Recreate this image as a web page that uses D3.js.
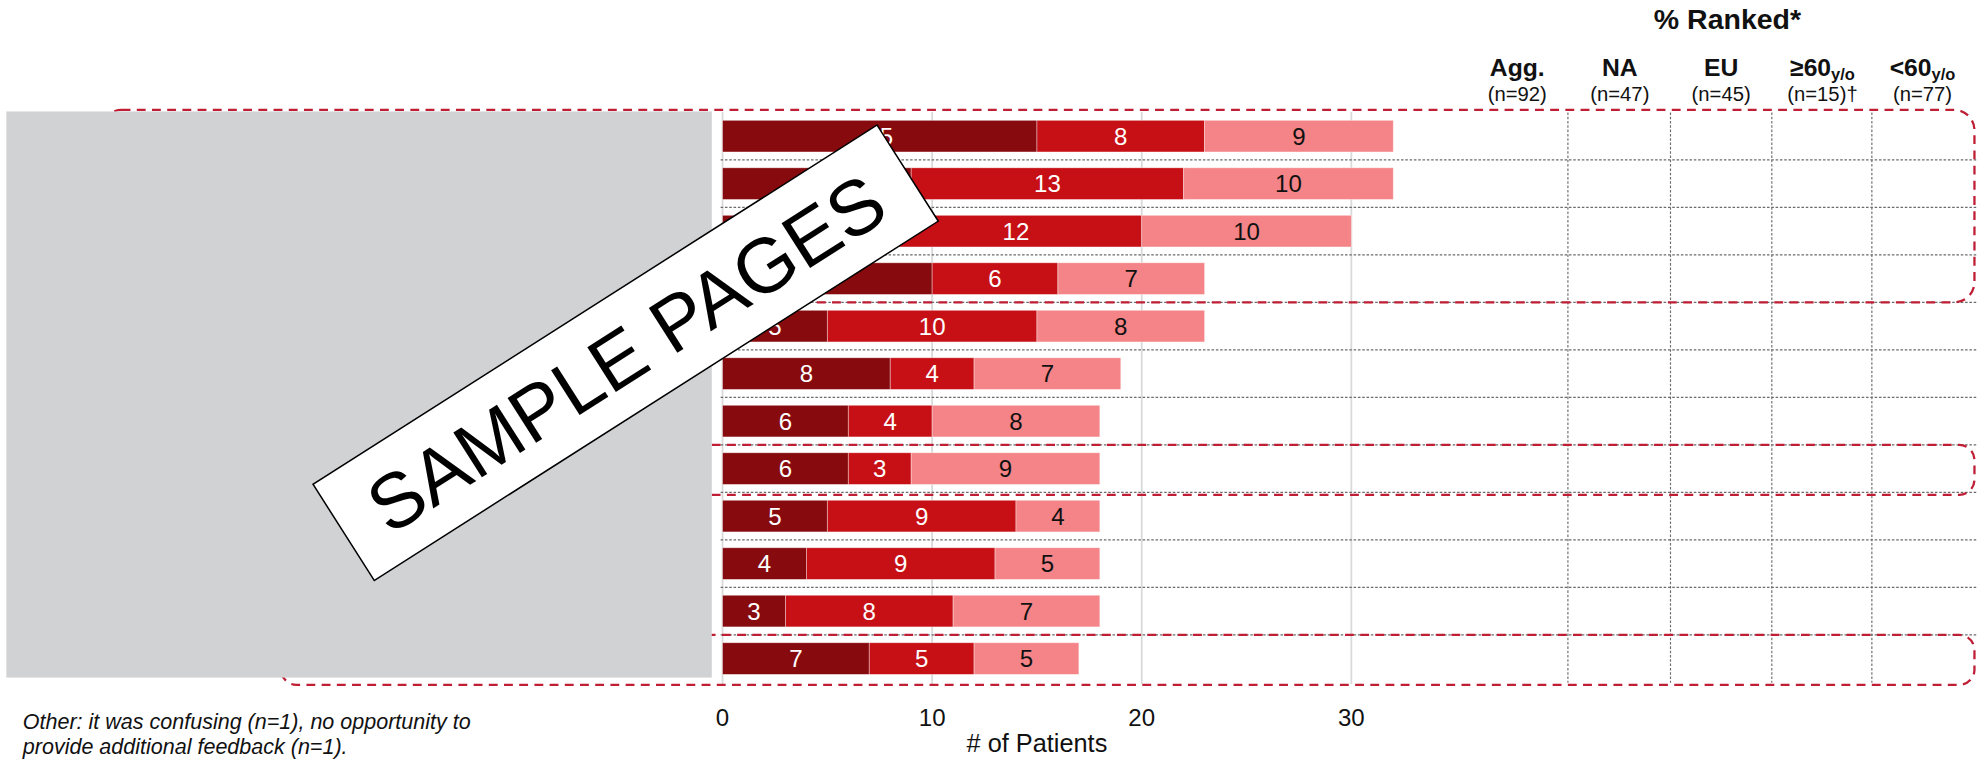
<!DOCTYPE html>
<html><head><meta charset="utf-8">
<script src="https://cdn.jsdelivr.net/npm/d3@7"></script>
<style>
html,body{margin:0;padding:0;background:#fff;}
svg{display:block;font-family:"Liberation Sans",Arial,Helvetica,sans-serif;}
</style></head>
<body>
<svg id="chart" width="1977" height="759" viewBox="0 0 1561 599.3"></svg>
<script>
// ---- data ----
const categories = ["Item 1","Item 2","Item 3","Item 4","Item 5","Item 6","Item 7","Item 8","Item 9","Item 10","Item 11","Item 12"];
const seriesKeys = ["rank1","rank2","rank3"];
const rank1 = [15, 9, 8,10, 5, 8, 6, 6, 5, 4, 3, 7];
const rank2 = [ 8,13,12, 6,10, 4, 4, 3, 9, 9, 8, 5];
const rank3 = [ 9,10,10, 7, 8, 7, 8, 9, 4, 5, 7, 5];
const xTicks = [0, 10, 20, 30];
const colNames = ["Agg.", "NA", "EU", "\u226560", "<60"];
const colSubs  = ["", "", "", "y/o", "y/o"];
const colNs    = ["(n=92)", "(n=47)", "(n=45)", "(n=15)\u2020", "(n=77)"];
const highlightRows = [[0, 3], [7, 7], [11, 11]];
const footnote = ["Other: it was confusing (n=1), no opportunity to", "provide additional feedback (n=1)."];

const rows = categories.map((c, i) => ({cat: c, rank1: rank1[i], rank2: rank2[i], rank3: rank3[i]}));
const colors = {rank1: "#870b0e", rank2: "#c71016", rank3: "#f48487"};
const textCol = {rank1: "#ffffff", rank2: "#ffffff", rank3: "#111111"};

const svg = d3.select("#chart");
const x = d3.scaleLinear().domain([0, 30]).range([570.5, 1067]);
const y = d3.scaleBand().domain(categories).range([88.75, 538.75]).paddingInner(1/3).paddingOuter(1/6);
const step = y.step();
const bandTop = c => y(c) - step * (1/6);
const colSep = [1238, 1319, 1399, 1478];
const colCenters = [1198, 1279, 1359, 1439, 1518];

// gridlines
svg.append("g").selectAll("line").data(xTicks).join("line")
  .attr("x1", d => x(d)).attr("x2", d => x(d))
  .attr("y1", 88.5).attr("y2", 540)
  .attr("stroke", "#d9d9d9").attr("stroke-width", 1.4);

// row separators
svg.append("g").selectAll("line").data(categories.slice(1)).join("line")
  .attr("x1", 569).attr("x2", 1561)
  .attr("y1", d => bandTop(d)).attr("y2", d => bandTop(d))
  .attr("stroke", "#6b6b6b").attr("stroke-width", 0.9).attr("stroke-dasharray", "2,1.4");

// column separators
svg.append("g").selectAll("line").data(colSep).join("line")
  .attr("x1", d => d).attr("x2", d => d)
  .attr("y1", 88.75).attr("y2", 539)
  .attr("stroke", "#6b6b6b").attr("stroke-width", 0.9).attr("stroke-dasharray", "2,1.4");

// bars
const stacked = d3.stack().keys(seriesKeys)(rows);
const segG = svg.append("g").selectAll("g").data(stacked).join("g").attr("fill", s => colors[s.key]);
segG.selectAll("rect").data(s => s.map(d => ({d, key: s.key}))).join("rect")
  .attr("x", o => x(o.d[0])).attr("width", o => x(o.d[1]) - x(o.d[0]))
  .attr("y", o => y(o.d.data.cat)).attr("height", y.bandwidth())
  .attr("stroke", "#fff").attr("stroke-opacity", 0.5).attr("stroke-width", 0.6);
const labG = svg.append("g").selectAll("g").data(stacked).join("g");
labG.selectAll("text").data(s => s.map(d => ({d, key: s.key}))).join("text")
  .attr("x", o => (x(o.d[0]) + x(o.d[1])) / 2)
  .attr("y", o => y(o.d.data.cat) + y.bandwidth() / 2)
  .attr("dy", "0.36em").attr("text-anchor", "middle")
  .attr("font-size", 19).attr("fill", o => textCol[o.key])
  .text(o => o.d[1] - o.d[0]);

// highlight boxes (red dashed, rounded)
const boxLeft = [80, 250, 222];
svg.append("g").selectAll("rect").data(highlightRows).join("rect")
  .attr("x", (d, i) => boxLeft[i])
  .attr("y", (d, i) => bandTop(categories[d[0]]) - (i === 0 ? 2 : 0))
  .attr("width", (d, i) => 1559 - boxLeft[i])
  .attr("height", (d, i) => bandTop(categories[d[1]]) + step - bandTop(categories[d[0]]) + 2)
  .attr("rx", (d, i) => i === 0 ? 16 : 12)
  .attr("fill", "none").attr("stroke", "#bf1e35").attr("stroke-width", 1.8)
  .attr("stroke-dasharray", "7,5");

// grey redaction panel
svg.append("rect").attr("x", 5).attr("y", 88).attr("width", 557).attr("height", 447).attr("fill", "#d1d2d4");

// x axis labels
svg.append("g").selectAll("text").data(xTicks).join("text")
  .attr("x", d => x(d)).attr("y", 573).attr("text-anchor", "middle")
  .attr("font-size", 19).attr("fill", "#111").text(d => d);
svg.append("text").attr("x", x(15)).attr("y", 594).attr("text-anchor", "middle")
  .attr("font-size", 20).attr("fill", "#111").text("# of Patients");

// footnote
svg.append("g").selectAll("text").data(footnote).join("text")
  .attr("x", 18).attr("y", (d, i) => 576 + i * 19)
  .attr("font-size", 17).attr("font-style", "italic").attr("fill", "#111").text(d => d);

// headers
svg.append("text").attr("x", 1364).attr("y", 23).attr("text-anchor", "middle")
  .attr("font-size", 22.5).attr("font-weight", "bold").attr("fill", "#111").text("% Ranked*");
const hdr = svg.append("g").selectAll("text").data(colNames).join("text")
  .attr("x", (d, i) => colCenters[i]).attr("y", 60).attr("text-anchor", "middle")
  .attr("font-size", 19.5).attr("font-weight", "bold").attr("fill", "#111");
hdr.append("tspan").text(d => d);
hdr.filter((d, i) => colSubs[i] !== "").append("tspan")
  .attr("font-size", 13).attr("dy", 3).text(d => colSubs[colNames.indexOf(d)]);
svg.append("g").selectAll("text").data(colNs).join("text")
  .attr("x", (d, i) => colCenters[i]).attr("y", 80).attr("text-anchor", "middle")
  .attr("font-size", 16).attr("fill", "#111").text(d => d);

// watermark
const wm = svg.append("g").attr("transform", "translate(494,278.5) rotate(-32.5)");
wm.append("rect").attr("x", -264).attr("y", -45).attr("width", 528).attr("height", 90)
  .attr("fill", "#fff").attr("stroke", "#000").attr("stroke-width", 1.2);
wm.append("text").attr("x", 0).attr("y", 0).attr("dy", "0.36em").attr("text-anchor", "middle")
  .attr("font-size", 61).attr("fill", "#000").text("SAMPLE PAGES");
</script>
</body></html>
